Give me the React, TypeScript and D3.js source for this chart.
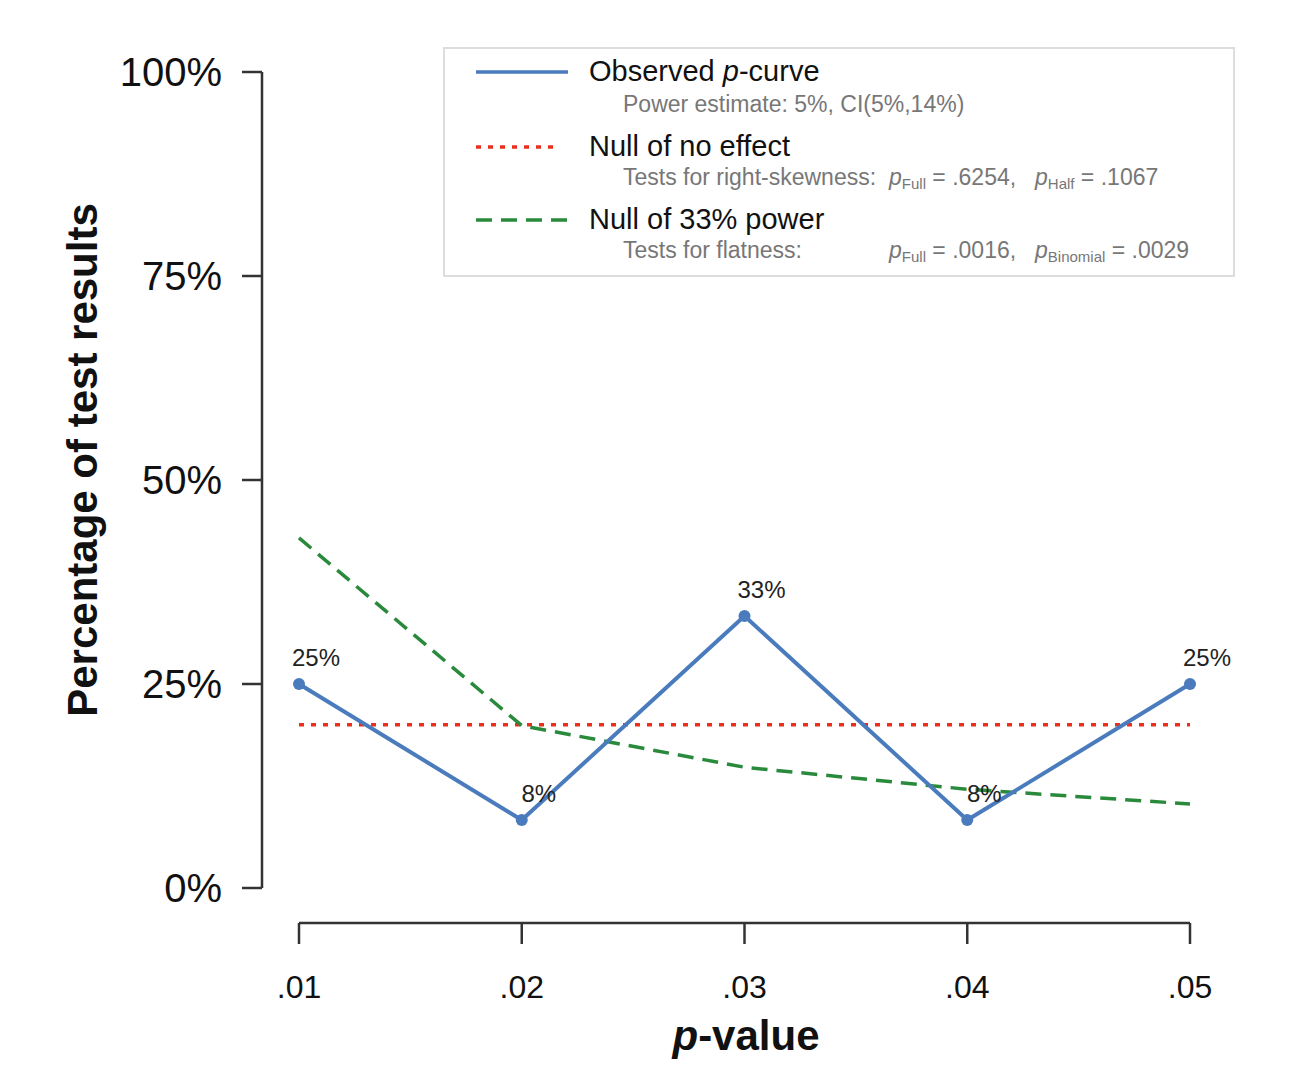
import React from "react";
import * as d3 from "d3";

// p-value bins (x axis)
const pValues = [0.01, 0.02, 0.03, 0.04, 0.05];
const xTickLabels = [".01", ".02", ".03", ".04", ".05"];

// share of significant results per bin, in percent
const observed = [25, 8.33, 33.33, 8.33, 25];
const observedLabels = ["25%", "8%", "33%", "8%", "25%"];
const nullNoEffect = [20, 20, 20, 20, 20];
const null33Power = [42.9, 19.9, 14.8, 12.1, 10.3];

const yTicks = [0, 25, 50, 75, 100];

const FONT = "'Liberation Sans', Arial, Helvetica, sans-serif";
const BLUE = "#4a7cbd";
const RED = "#e8301f";
const GREEN = "#2a8a3c";
const AXIS = "#333";

const W = 1302;
const H = 1076;

export default function App() {
  const x = d3.scaleLinear().domain([0.01, 0.05]).range([299, 1190]);
  const y = d3.scaleLinear().domain([0, 100]).range([888, 72]);

  const line = d3
    .line<number>()
    .x((_, i) => x(pValues[i]))
    .y((d) => y(d));

  const subtext = { fontSize: 23, fill: "#777" };
  const sub = { fontSize: 15 };

  return (
    <svg
      width={W}
      height={H}
      style={{ position: "absolute", left: 0, top: 0, background: "#fff" }}
      fontFamily={FONT}
    >
      {/* y axis */}
      <line x1={262} x2={262} y1={y(100)} y2={y(0)} stroke={AXIS} strokeWidth={2.5} />
      {yTicks.map((t) => (
        <g key={t}>
          <line x1={242} x2={262} y1={y(t)} y2={y(t)} stroke={AXIS} strokeWidth={2.5} />
          <text x={222} y={y(t) + 14} textAnchor="end" fontSize={40} fill="#111">
            {`${t}%`}
          </text>
        </g>
      ))}
      <text
        transform={`translate(97,460) rotate(-90)`}
        textAnchor="middle"
        fontSize={42}
        fontWeight="bold"
        fill="#111"
      >
        Percentage of test results
      </text>

      {/* x axis */}
      <line x1={x(0.01)} x2={x(0.05)} y1={923} y2={923} stroke={AXIS} strokeWidth={2.5} />
      {pValues.map((p, i) => (
        <g key={p}>
          <line x1={x(p)} x2={x(p)} y1={923} y2={944} stroke={AXIS} strokeWidth={2.5} />
          <text x={x(p)} y={998} textAnchor="middle" fontSize={32} fill="#111">
            {xTickLabels[i]}
          </text>
        </g>
      ))}
      <text x={746} y={1050} textAnchor="middle" fontSize={42} fontWeight="bold" fill="#111">
        <tspan fontStyle="italic">p</tspan>-value
      </text>

      {/* reference curves */}
      <path d={line(nullNoEffect) || ""} fill="none" stroke={RED} strokeWidth={3.5} strokeDasharray="5,7" />
      <path d={line(null33Power) || ""} fill="none" stroke={GREEN} strokeWidth={3.5} strokeDasharray="16,9" />

      {/* observed p-curve */}
      <path d={line(observed) || ""} fill="none" stroke={BLUE} strokeWidth={4} strokeLinejoin="round" />
      {observed.map((v, i) => (
        <circle key={i} cx={x(pValues[i])} cy={y(v)} r={6} fill={BLUE} />
      ))}
      {observed.map((v, i) => (
        <text
          key={`l${i}`}
          x={x(pValues[i]) + 17}
          y={y(v) - 18}
          textAnchor="middle"
          fontSize={24}
          fill="#222"
        >
          {observedLabels[i]}
        </text>
      ))}

      {/* legend */}
      <rect x={444} y={48} width={790} height={228} fill="#fff" stroke="#ddd" strokeWidth={2} />
      <line x1={476} x2={568} y1={72} y2={72} stroke={BLUE} strokeWidth={3.5} />
      <text x={589} y={81} fontSize={29} fill="#111">
        Observed <tspan fontStyle="italic">p</tspan>-curve
      </text>
      <text x={623} y={112} {...subtext}>
        Power estimate: 5%, CI(5%,14%)
      </text>

      <line x1={476} x2={560} y1={147} y2={147} stroke={RED} strokeWidth={3.5} strokeDasharray="5,7" />
      <text x={589} y={156} fontSize={29} fill="#111">
        Null of no effect
      </text>
      <text x={623} y={185} {...subtext}>
        Tests for right-skewness:
      </text>
      <text x={889} y={185} {...subtext}>
        <tspan fontStyle="italic">p</tspan>
        <tspan {...sub} dy={4}>Full</tspan>
        <tspan dy={-4}> = .6254,</tspan>
      </text>
      <text x={1035} y={185} {...subtext}>
        <tspan fontStyle="italic">p</tspan>
        <tspan {...sub} dy={4}>Half</tspan>
        <tspan dy={-4}> = .1067</tspan>
      </text>

      <line x1={476} x2={568} y1={220} y2={220} stroke={GREEN} strokeWidth={3.5} strokeDasharray="16,9" />
      <text x={589} y={229} fontSize={29} fill="#111">
        Null of 33% power
      </text>
      <text x={623} y={258} {...subtext}>
        Tests for flatness:
      </text>
      <text x={889} y={258} {...subtext}>
        <tspan fontStyle="italic">p</tspan>
        <tspan {...sub} dy={4}>Full</tspan>
        <tspan dy={-4}> = .0016,</tspan>
      </text>
      <text x={1035} y={258} {...subtext}>
        <tspan fontStyle="italic">p</tspan>
        <tspan {...sub} dy={4}>Binomial</tspan>
        <tspan dy={-4}> = .0029</tspan>
      </text>
    </svg>
  );
}
